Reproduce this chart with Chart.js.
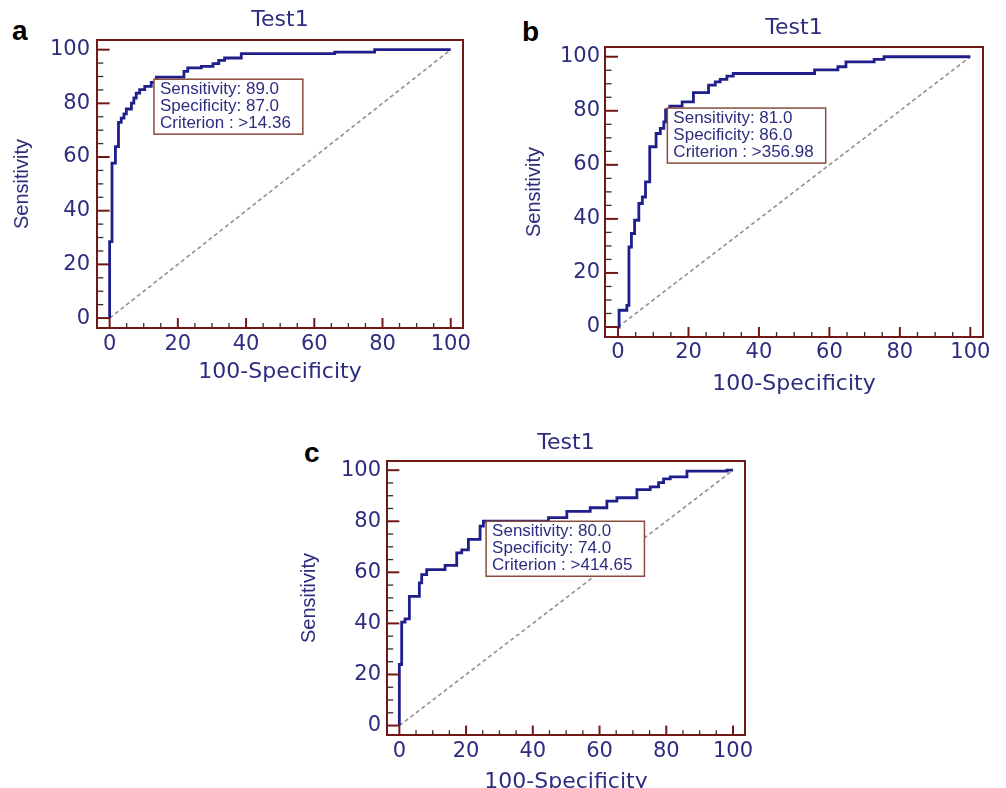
<!DOCTYPE html>
<html>
<head>
<meta charset="utf-8">
<script src="https://cdn.jsdelivr.net/npm/chart.js@4.4.1/dist/chart.umd.min.js"></script>
<style>
  body { margin: 0; background: #fff; width: 1006px; height: 788px; overflow: hidden; position: relative; }
  .panel { position: absolute; }
  .letra { position: absolute; font: bold 28px 'Liberation Sans', Arial, sans-serif; line-height: 28px; color: #000; }
</style>
</head>
<body>
<div class="letra" style="left:12px;top:17px">a</div>
<div class="letra" style="left:522px;top:18px">b</div>
<div class="letra" style="left:304px;top:439px">c</div>

<div class="panel" style="left:0;top:0;width:480px;height:395px"><canvas id="grafA"></canvas></div>
<div class="panel" style="left:510px;top:0;width:496px;height:400px"><canvas id="grafB"></canvas></div>
<div class="panel" style="left:290px;top:420px;width:480px;height:388px"><canvas id="grafC"></canvas></div>

<script>
// Ejes comunes
const ticksEje = [0, 20, 40, 60, 80, 100];
const pasoMenor = 5;
const limitesEje = [-3.7, 103.6];
const diagonal = [0, 100];

// Panel a - curva ROC (100-especificidad, sensibilidad)
const rocA_x = [0, 0, 0.7, 1.7, 2.6, 3.4, 4.2, 4.9, 6.4, 7.1, 7.8, 8.8, 10.3, 12.2, 13.7, 21.8, 22.9, 26.9, 30.3, 32.0, 33.7, 38.6, 66.0, 77.7, 100];
const rocA_y = [0, 28.5, 57.7, 63.9, 72.9, 74.5, 76.1, 77.9, 80.1, 82.0, 83.8, 85.1, 86.3, 87.8, 89.8, 91.9, 93.2, 93.8, 94.8, 96.0, 96.9, 98.5, 99.1, 100, 100];
const corteA = { sens: 89.0, espec: 87.0, criterio: '>14.36' };

// Panel b
const rocB_x = [0, 0.3, 2.5, 3.1, 3.8, 4.7, 5.9, 6.9, 7.8, 9.0, 10.8, 12.0, 13.0, 13.5, 14.7, 18.2, 21.4, 25.7, 27.6, 29.0, 30.9, 32.7, 55.8, 62.4, 64.7, 72.7, 75.5, 100];
const rocB_y = [0, 6.2, 8.0, 29.6, 34.6, 39.5, 45.7, 48.1, 53.7, 66.7, 71.6, 73.5, 75.9, 80.3, 81.7, 83.3, 86.7, 89.5, 90.7, 91.6, 92.8, 93.8, 95.1, 96.3, 98.1, 99.0, 100, 100];
const corteB = { sens: 81.0, espec: 86.0, criterio: '>356.98' };

// Panel c
const rocC_x = [0, 0, 0.7, 1.7, 3.0, 6.0, 6.7, 8.2, 13.7, 17.2, 18.7, 20.7, 24.2, 25.2, 44.7, 50.2, 57.2, 62.2, 65.2, 71.2, 75.2, 77.7, 79.2, 81.2, 86.2, 98.2, 100];
const rocC_y = [0, 23.9, 40.5, 41.8, 50.6, 55.9, 59.1, 61.1, 62.7, 67.6, 68.8, 72.9, 78.1, 80.0, 81.4, 83.9, 85.3, 87.9, 89.2, 92.4, 93.5, 95.1, 96.6, 97.4, 99.6, 100, 100];
const corteC = { sens: 80.0, espec: 74.0, criterio: '>414.65' };

const azulTexto = '#2d2d80';
const azulCurva = '#1f1f8c';
const rojoMarco = '#701818';
const fuenteEje = "'DejaVu Sans', sans-serif";
const fuenteCaja = "'Liberation Sans', Arial, sans-serif";

// Marco, marcas internas y caja del punto de corte
const marcoPlugin = {
    id: 'marco',
    afterDatasetsDraw(chart, args, opts) {
        const { ctx, chartArea: a, scales: { x, y } } = chart;
        const x0 = x.getPixelForValue(0);
        const y0 = y.getPixelForValue(0);
        ctx.save();
        for (let v = ticksEje[0]; v <= ticksEje[ticksEje.length - 1]; v += pasoMenor) {
            const mayor = ticksEje.includes(v);
            ctx.strokeStyle = mayor ? rojoMarco : '#3a2a2a';
            ctx.lineWidth = mayor ? 2 : 1.3;
            const py = y.getPixelForValue(v);
            const lx = mayor ? x0 - a.left : (x0 - a.left) / 2;
            ctx.beginPath(); ctx.moveTo(a.left, py); ctx.lineTo(a.left + lx, py); ctx.stroke();
            const px = x.getPixelForValue(v);
            const ly = mayor ? a.bottom - y0 : (a.bottom - y0) / 2;
            ctx.beginPath(); ctx.moveTo(px, a.bottom); ctx.lineTo(px, a.bottom - ly); ctx.stroke();
        }
        ctx.strokeStyle = rojoMarco;
        ctx.lineWidth = 2;
        ctx.strokeRect(a.left, a.top, a.right - a.left, a.bottom - a.top);

        // caja anclada en el punto de corte
        const c = opts.corte;
        const lineas = [
            'Sensitivity: ' + c.sens.toFixed(1),
            'Specificity: ' + c.espec.toFixed(1),
            'Criterion : ' + c.criterio
        ];
        ctx.font = '17px ' + fuenteCaja;
        const ancho = Math.max(...lineas.map(t => ctx.measureText(t).width)) + 18;
        const bx = x.getPixelForValue(100 - c.espec);
        const by = y.getPixelForValue(c.sens);
        ctx.fillStyle = '#fff';
        ctx.fillRect(bx, by, ancho, 55);
        ctx.strokeStyle = '#8a4a3c';
        ctx.lineWidth = 1.5;
        ctx.strokeRect(bx, by, ancho, 55);
        ctx.fillStyle = azulTexto;
        ctx.textBaseline = 'middle';
        lineas.forEach((t, i) => ctx.fillText(t, bx + 6, by + 10.5 + i * 16.7));
        ctx.restore();
    }
};

function crearPanel(id, xs, ys, corte, g) {
    const puntos = xs.map((v, i) => ({ x: v, y: ys[i] }));
    new Chart(document.getElementById(id).getContext('2d'), {
        type: 'line',
        data: {
            datasets: [{
                data: puntos,
                stepped: 'before',
                borderColor: azulCurva,
                borderWidth: 2.8,
                pointRadius: 0,
                fill: false
            }, {
                data: diagonal.map(v => ({ x: v, y: v })),
                borderColor: '#9a8c8c',
                borderWidth: 1.6,
                borderDash: [4, 3],
                pointRadius: 0,
                fill: false
            }]
        },
        options: {
            responsive: true,
            maintainAspectRatio: false,
            animation: false,
            layout: { padding: { left: 0, right: g.derecha, top: 0, bottom: 0 } },
            plugins: {
                legend: { display: false },
                tooltip: { enabled: false },
                title: {
                    display: true, text: 'Test1', color: azulTexto, fullSize: false,
                    font: { family: fuenteEje, size: 22, weight: 'normal' },
                    padding: { top: g.titSup, bottom: g.titInf }
                },
                marco: { corte: corte }
            },
            scales: {
                x: {
                    type: 'linear', min: limitesEje[0], max: limitesEje[1],
                    afterBuildTicks: s => { s.ticks = ticksEje.map(v => ({ value: v })); },
                    afterFit: s => { s.height = g.altoX; },
                    grid: { display: false, drawTicks: false },
                    border: { display: false },
                    ticks: { color: azulTexto, padding: g.padTickX, maxRotation: 0, font: { family: fuenteEje, size: 21 } },
                    title: {
                        display: true, text: '100-Specificity', color: azulTexto,
                        font: { family: fuenteEje, size: 22 },
                        padding: { top: 0, bottom: g.padTitX }
                    }
                },
                y: {
                    type: 'linear', min: limitesEje[0], max: limitesEje[1],
                    afterBuildTicks: s => { s.ticks = ticksEje.map(v => ({ value: v })); },
                    afterFit: s => { s.width = g.anchoY; },
                    grid: { display: false, drawTicks: false },
                    border: { display: false },
                    ticks: { color: azulTexto, padding: g.padTickY, font: { family: fuenteEje, size: 21 } },
                    title: {
                        display: true, text: 'Sensitivity', color: azulTexto,
                        font: { family: fuenteCaja, size: 20 },
                        padding: { top: g.padTitY, bottom: 0 }
                    }
                }
            }
        },
        plugins: [marcoPlugin]
    });
}

try {
    crearPanel('grafA', rocA_x, rocA_y, corteA,
        { derecha: 17, titSup: 6.8, titInf: 6.8, altoX: 67, padTickX: 4.4, padTitX: 9.8, anchoY: 97, padTickY: 7, padTitY: 10 });
    crearPanel('grafB', rocB_x, rocB_y, corteB,
        { derecha: 23, titSup: 14.8, titInf: 5.8, altoX: 63, padTickX: 3.4, padTitX: 2.8, anchoY: 95, padTickY: 5, padTitY: 12 });
    crearPanel('grafC', rocC_x, rocC_y, corteC,
        { derecha: 25, titSup: 9.8, titInf: 4.8, altoX: 73, padTickX: 4.4, padTitX: 12.8, anchoY: 97, padTickY: 6, padTitY: 7 });
} catch (error) {
    console.error('Error al crear las gráficas:', error);
}
</script>
</body>
</html>
